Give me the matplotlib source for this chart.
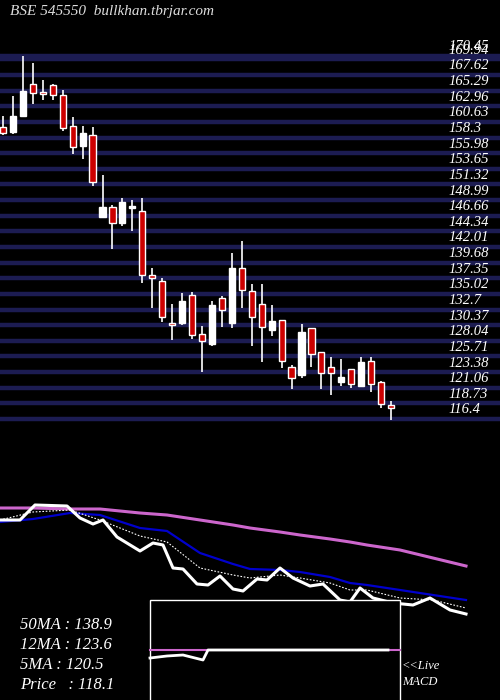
import matplotlib
matplotlib.use("Agg")
import matplotlib.pyplot as plt
from matplotlib.patches import Rectangle

# candle data (open, high, low, close)
opens  = [159.88,159.14,161.52,166.28,165.09,166.13,164.64,160.03,157.05,158.69,146.48,147.97,145.59,147.82,147.37,137.84,136.95,130.70,130.70,134.86,129.06,127.57,134.42,130.70,138.88,135.46,133.52,129.65,131.14,124.14,122.95,129.95,126.38,124.14,121.91,123.85,121.31,125.04,121.91,118.49]
highs  = [161.52,164.50,170.45,169.41,166.88,166.28,165.39,161.37,160.03,159.88,152.73,148.27,149.31,149.01,149.31,138.88,137.40,133.52,135.16,135.31,130.25,133.97,134.72,141.12,142.91,136.50,136.50,133.38,131.14,124.44,130.55,129.95,126.38,125.63,125.33,123.85,125.63,125.63,122.06,119.08]
lows   = [158.69,158.84,161.52,163.30,163.90,163.90,159.28,155.86,155.11,151.09,146.48,141.71,145.14,144.39,136.65,132.93,130.84,128.16,130.40,128.31,123.40,127.27,130.10,129.95,132.93,127.27,124.89,128.76,123.99,120.87,122.51,124.14,120.87,119.97,121.31,121.02,121.17,120.42,118.04,116.25]
closes = [158.99,161.52,165.24,164.94,164.79,164.64,159.73,156.90,158.99,151.69,147.97,145.59,148.71,147.97,137.84,137.40,131.59,130.40,133.97,128.91,128.02,133.38,132.63,138.88,135.61,131.59,130.10,130.99,124.99,122.51,129.36,126.08,123.25,123.25,122.65,121.61,124.89,121.61,118.63,118.04]

price_levels = [170.45,169.94,167.62,165.29,162.96,160.63,158.3,155.98,153.65,151.32,148.99,146.66,144.34,142.01,139.68,137.35,135.02,132.7,130.37,128.04,125.71,123.38,121.06,118.73,116.4]

# lower panel series (relative level units)
ma_x      = [0,33,70,100,140,167,200,233,250,280,300,330,350,367,400,433,466]
ma50      = [192,192,191,191,187,185,180,175,172,168,165,161,158,155,150,142,134]
ma12      = [178,181,187,185,172,169,147,136,131,130,128,123,117,115,110,105,100]
ma5       = [180,188,190,180,164,158,132,125,122,125,122,117,110,110,102,100,92]
px_x      = [0,20,35,67,80,93,103,117,140,153,163,173,183,197,208,220,233,243,257,267,280,293,310,323,340,350,360,373,393,413,430,450,466]
px_line   = [180,180,195,194,182,176,180,163,149,157,155,132,131,116,115,124,111,109,121,120,132,122,114,116,100,98,112,102,97,95,102,90,86]
macd_x    = [150,167,183,203,208,388]
macd_line = [42,44,45,40,50,50]
sig_x     = [150,208,388,400]
sig_line  = [50,50,50,50]

labels = [("50MA", "138.9"), ("12MA", "123.6"), ("5MA", "120.5"), ("Price  ", "118.1")]

W, H = 500, 700
fig = plt.figure(figsize=(5, 7), dpi=100, facecolor="black")
serif = ["Liberation Serif", "DejaVu Serif"]

# main candle axes: pixel rows 0..460
ax = fig.add_axes([0, 1 - 460 / H, 1, 460 / H])
ax.set_facecolor("black")
ax.set_axis_off()
ax.set_ylim(178.79 - 0.1489 * 460, 178.79)
step = 9.95
ax.set_xlim(-3 / step, (500 - 3) / step)

for lv in price_levels:
    ax.axhline(lv, color="#1c1c52", lw=3.2, zorder=1)
    ax.text(448 / W, lv + 1.35, str(lv), transform=ax.get_yaxis_transform(),
            color="white", fontsize=10.5, family=serif, style="italic",
            va="center", ha="left", zorder=2)

bw = 0.62
for i, (o, h, l, c) in enumerate(zip(opens, highs, lows, closes)):
    ax.vlines(i, l, h, color="white", lw=1.2, zorder=3)
    bull = c >= o
    lo, hi = min(o, c), max(o, c)
    ht = max(hi - lo, 0.3)
    ax.add_patch(Rectangle((i - bw / 2, lo), bw, ht,
                           facecolor="white" if bull else "#cc0000",
                           edgecolor="white", lw=1, zorder=4))

fig.text(10 / W, 1 - 12 / H, "BSE 545550  bullkhan.tbrjar.com", color="#dddddd",
         fontsize=11, family=serif, style="italic", va="center", ha="left")

# lower panel: pixel rows 490..700
ax2 = fig.add_axes([0, 0, 1, 210 / H])
ax2.set_facecolor("black")
ax2.set_axis_off()
ax2.set_xlim(0, 500)
ax2.set_ylim(0, 210)

ax2.plot(ma_x, ma50, color="#cc66cc", lw=2.2, zorder=2)
ax2.plot(ma_x, ma12, color="#0000cc", lw=1.6, zorder=2)
ax2.plot(ma_x, ma5, color="white", lw=0.8, ls=(0, (1.5, 1.5)), zorder=2)
ax2.plot(px_x, px_line, color="white", lw=2.2, zorder=2)

ax2.add_patch(Rectangle((150, -5), 250, 105, facecolor="black",
                        edgecolor="white", lw=1, zorder=5))
ax2.plot(sig_x, sig_line, color="#cc66cc", lw=1.5, zorder=6)
ax2.plot(macd_x, macd_line, color="white", lw=2, zorder=7)

for k, (name, val) in enumerate(labels):
    fig.text(20 / W, 1 - (625 + 20 * k) / H, f"{name} : {val}", color="white",
             fontsize=12, family=serif, style="italic", va="center", ha="left")
fig.text(402 / W, 1 - 666 / H, "<<Live", color="white", fontsize=9,
         family=serif, style="italic", va="center", ha="left")
fig.text(402 / W, 1 - 682 / H, "MACD", color="white", fontsize=9,
         family=serif, style="italic", va="center", ha="left")

fig.savefig("out.png", dpi=100, facecolor="black")
